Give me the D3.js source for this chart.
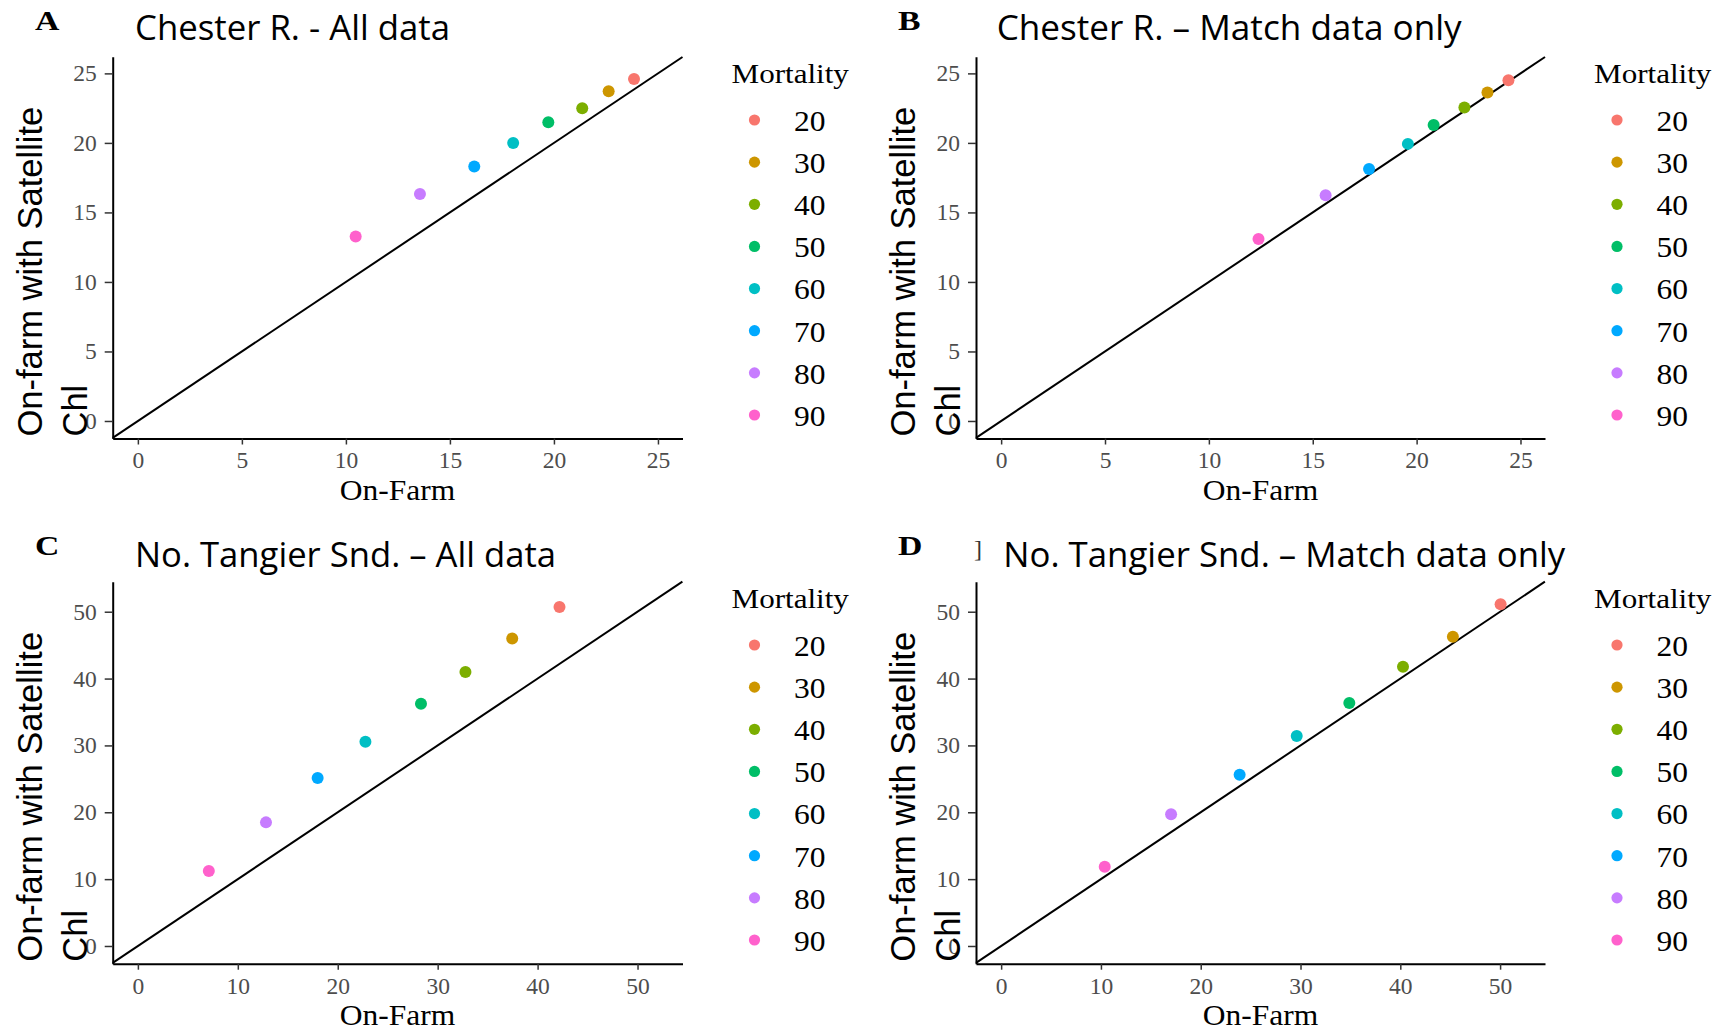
<!DOCTYPE html>
<html>
<head>
<meta charset="utf-8">
<script src="https://cdn.jsdelivr.net/npm/d3@7"></script>
<style>
  body { margin: 0; background: #fff; }
</style>
</head>
<body>
<div id="chart"></div>
<script>

// Mortality levels and ggplot hue colours
var mortality = [20, 30, 40, 50, 60, 70, 80, 90];
var hues = ["#F8766D", "#CD9600", "#7CAE00", "#00BE67", "#00BFC4", "#00A9FF", "#C77CFF", "#FF61CC"];

// Chester R.
var chesterAllX   = [23.85, 22.63, 21.36, 19.73, 18.04, 16.17, 13.56, 10.47];
var chesterAllY   = [24.60, 23.72, 22.50, 21.49, 20.00, 18.30, 16.33, 13.26];
var chesterMatchX = [24.42, 23.41, 22.30, 20.82, 19.58, 17.71, 15.62, 12.39];
var chesterMatchY = [24.51, 23.62, 22.54, 21.29, 19.93, 18.13, 16.23, 13.09];

// No. Tangier Snd.
var tangierAllX   = [42.19, 37.46, 32.78, 28.33, 22.77, 17.99, 12.82, 7.10];
var tangierAllY   = [50.70, 46.00, 40.98, 36.24, 30.56, 25.12, 18.49, 11.22];
var tangierMatchX = [50.05, 45.27, 40.27, 34.89, 29.62, 23.90, 17.03, 10.38];
var tangierMatchY = [51.10, 46.26, 41.77, 36.34, 31.40, 25.62, 19.69, 11.86];

var chesterTicks = [0, 5, 10, 15, 20, 25];
var tangierTicks = [0, 10, 20, 30, 40, 50];

var width = 1719,
    height = 1030;

var serif = "'Liberation Serif', 'Times New Roman', serif";

var svg = d3.select("#chart")
    .append("svg")
    .attr("width", width)
    .attr("height", height);

svg.append("rect").attr("width", width).attr("height", height).attr("fill", "#fff");

var color = d3.scaleOrdinal().domain(mortality).range(hues);

// the source figure has horizontally stretched lettering
function stretch(sel, k) {
    sel.each(function () {
        var w = this.getComputedTextLength();
        d3.select(this).attr("textLength", w * k).attr("lengthAdjust", "spacingAndGlyphs");
    });
}

var panels = [
    { letter: "A", title: "Chester R. - All data", titleW: 315, xs: chesterAllX, ys: chesterAllY,
      ticks: chesterTicks, xDom: [-1.21, 26.18], yDom: [-1.26, 26.2],
      left: 112.7, right: 682.5, top: 56.7, bottom: 438.5,
      titleX: 135, titleY: 40, letterX: 35, letterY: 30, yt: [-71, -26] },
    { letter: "B", title: "Chester R. \u2013 Match data only", titleW: 465, xs: chesterMatchX, ys: chesterMatchY,
      ticks: chesterTicks, xDom: [-1.21, 26.18], yDom: [-1.26, 26.2],
      left: 976, right: 1545, top: 56.7, bottom: 438.5,
      titleX: 996.7, titleY: 40, letterX: 898, letterY: 30, yt: [-61, -16] },
    { letter: "C", title: "No. Tangier Snd. \u2013 All data", titleW: 421, xs: tangierAllX, ys: tangierAllY,
      ticks: tangierTicks, xDom: [-2.52, 54.5], yDom: [-2.65, 54.49],
      left: 112.7, right: 682.5, top: 581.7, bottom: 963.7,
      titleX: 135, titleY: 566.7, letterX: 35, letterY: 555, yt: [-71, -26] },
    { letter: "D", title: "No. Tangier Snd. \u2013 Match data only", titleW: 562, xs: tangierMatchX, ys: tangierMatchY,
      ticks: tangierTicks, xDom: [-2.52, 54.5], yDom: [-2.65, 54.49],
      left: 976, right: 1545, top: 581.7, bottom: 963.7,
      titleX: 1003.3, titleY: 566.7, letterX: 898, letterY: 555, yt: [-61, -16] }
];

panels.forEach(drawPanel);

// stray bracket left over in the original figure, next to title D
svg.append("text")
    .attr("x", 974)
    .attr("y", 557)
    .style("font-family", serif)
    .style("font-size", "24px")
    .style("fill", "#333")
    .text("]");

function drawPanel(p) {

    var x = d3.scaleLinear().domain(p.xDom).range([p.left, p.right]);
    var y = d3.scaleLinear().domain(p.yDom).range([p.bottom, p.top]);

    var g = svg.append("g");

    // panel letter
    g.append("text")
        .attr("x", p.letterX)
        .attr("y", p.letterY)
        .style("font-family", serif)
        .style("font-weight", "bold")
        .style("font-size", "27px")
        .text(p.letter)
        .call(stretch, 1.25);

    // title
    g.append("text")
        .attr("x", p.titleX)
        .attr("y", p.titleY)
        .style("font-family", "Open Sans")
        .style("font-size", "35px")
        .attr("textLength", p.titleW)
        .attr("lengthAdjust", "spacingAndGlyphs")
        .text(p.title);

    // axes
    var yAxis = g.append("g")
        .attr("transform", "translate(" + p.left + ",0)")
        .call(d3.axisLeft(y).tickValues(p.ticks).tickSize(8).tickSizeOuter(0).tickPadding(8));

    var xAxis = g.append("g")
        .attr("transform", "translate(0," + p.bottom + ")")
        .call(d3.axisBottom(x).tickValues(p.ticks).tickSize(6).tickSizeOuter(0).tickPadding(7.3));

    [yAxis, xAxis].forEach(function (a) {
        a.select(".domain").attr("stroke", "#000").attr("stroke-width", 2);
        a.selectAll(".tick line").attr("stroke", "#333").attr("stroke-width", 1.5);
        a.selectAll(".tick text")
            .style("font-family", serif)
            .style("font-size", "23.5px")
            .attr("fill", "#4d4d4d");
    });

    // 1:1 line across the panel
    var lo = Math.max(p.xDom[0], p.yDom[0]),
        hi = Math.min(p.xDom[1], p.yDom[1]);
    g.append("line")
        .attr("x1", x(lo)).attr("y1", y(lo))
        .attr("x2", x(hi)).attr("y2", y(hi))
        .attr("stroke", "#000")
        .attr("stroke-width", 2);

    // points
    g.selectAll("circle.pt")
        .data(mortality)
        .enter()
        .append("circle")
        .attr("class", "pt")
        .attr("cx", function (d, i) { return x(p.xs[i]); })
        .attr("cy", function (d, i) { return y(p.ys[i]); })
        .attr("r", 6)
        .attr("fill", function (d) { return color(d); });

    // axis titles
    g.append("text")
        .attr("x", (p.left + p.right) / 2)
        .attr("y", p.bottom + 61.5)
        .attr("text-anchor", "middle")
        .style("font-family", serif)
        .style("font-size", "30px")
        .text("On-Farm")
        .call(stretch, 1.05);

    var yt = g.append("text")
        .attr("transform", "translate(0," + (p.bottom - 2) + ") rotate(-90)")
        .style("font-family", "Liberation Sans")
        .style("font-size", "34.5px");
    yt.append("tspan").attr("x", 0).attr("y", p.left + p.yt[0]).text("On-farm with Satellite");
    yt.append("tspan").attr("x", 0).attr("y", p.left + p.yt[1]).text("Chl");

    // legend
    var lg = g.append("g");
    lg.append("text")
        .attr("x", p.right + 49)
        .attr("y", p.top + 26.6)
        .style("font-family", serif)
        .style("font-size", "27.5px")
        .text("Mortality")
        .call(stretch, 1.13);

    var ly = d3.scalePoint().domain(mortality).range([p.top + 63.3, p.top + 358.3]);

    lg.selectAll("circle")
        .data(mortality)
        .enter()
        .append("circle")
        .attr("cx", p.right + 72)
        .attr("cy", function (d) { return ly(d); })
        .attr("r", 5.6)
        .attr("fill", function (d) { return color(d); });

    lg.selectAll("text.lab")
        .data(mortality)
        .enter()
        .append("text")
        .attr("class", "lab")
        .attr("x", p.right + 111.5)
        .attr("y", function (d) { return ly(d); })
        .attr("dy", "0.36em")
        .style("font-family", serif)
        .style("font-size", "30px")
        .text(function (d) { return d; })
        .call(stretch, 1.05);
}

</script>
</body>
</html>
